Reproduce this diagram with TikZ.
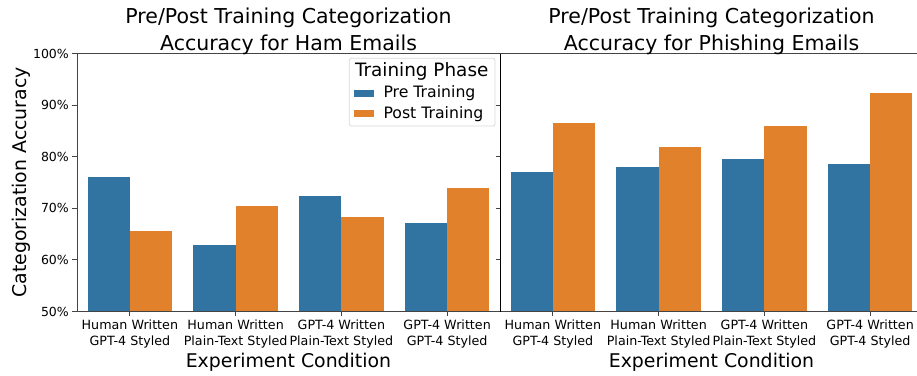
\documentclass[tikz,border=0pt]{standalone}
\usepackage{fontspec}
\setmainfont{DejaVu Sans}
\definecolor{preblue}{HTML}{3274A1}
\definecolor{postorange}{HTML}{E1812C}
\definecolor{spinecol}{HTML}{444444}
\tikzset{
  prebar/.style={fill=preblue, draw=none},
  postbar/.style={fill=postorange, draw=none},
  spine/.style={draw=spinecol, line width=1pt},
  tickmark/.style={draw=spinecol, line width=0.9pt},
  ticklab/.style={inner sep=0pt, font=\fontsize{12.5}{16.5}\selectfont},
  xticklab/.style={inner sep=0pt, align=center, anchor=base, font=\fontsize{12.7}{16.5}\selectfont},
  bigtitle/.style={inner sep=0pt, align=center, anchor=base, font=\fontsize{20.5}{26.7}\selectfont},
  axlabel/.style={inner sep=0pt, anchor=base, font=\fontsize{18.9}{22}\selectfont},
  legtext/.style={inner sep=0pt, anchor=base west, font=\fontsize{15.7}{18}\selectfont},
}
\begin{document}
\begin{tikzpicture}[x=1pt,y=-1pt]
\useasboundingbox (0,0) rectangle (917,375);
% value -> y : 311.5 - (v-50)*5.16
\def\yv#1{311.5-(#1-50)*5.16}
% bars left panel
\foreach \cx/\pre/\post in {129.875/76.05/65.6, 235.625/62.9/70.4, 341.375/72.4/68.3, 447.125/67.2/73.9}{
  \fill[prebar] (\cx-42.3,311.5) rectangle (\cx,{\yv{\pre}});
  \fill[postbar] (\cx,311.5) rectangle (\cx+42.3,{\yv{\post}});
}
% bars right panel
\foreach \cx/\pre/\post in {552.875/77.1/86.5, 658.625/78.0/81.9, 764.375/79.5/85.9, 870.125/78.5/92.3}{
  \fill[prebar] (\cx-42.3,311.5) rectangle (\cx,{\yv{\pre}});
  \fill[postbar] (\cx,311.5) rectangle (\cx+42.3,{\yv{\post}});
}
% spines
\draw[spine] (77,53.5) -- (77,311.5);
\draw[spine] (77,53.5) -- (917,53.5);
\draw[spine] (77,311.5) -- (917,311.5);
\draw[draw=black, line width=1pt] (500,53.5) -- (500,311.5);
% y ticks and labels
\foreach \v/\lab in {50/50\%, 60/60\%, 70/70\%, 80/80\%, 90/90\%, 100/100\%}{
  \draw[tickmark] (72,{\yv{\v}}) -- (77,{\yv{\v}});
  \draw[tickmark] (496,{\yv{\v}}) -- (500,{\yv{\v}});
  \node[ticklab, anchor=east] (yl\v) at (69,{\yv{\v}}) {\lab};
}
% x ticks
\foreach \cx in {129.875, 235.625, 341.375, 447.125, 552.875, 658.625, 764.375, 870.125}{
  \draw[tickmark] (\cx,311.5) -- (\cx,316);
}
% x tick labels (anchor at baseline of the last line)
\node[xticklab] (la) at (129.875,345.7) {Human Written\\GPT-4 Styled};
\node[xticklab] (lb) at (235.625,345.7) {Human Written\\Plain-Text Styled};
\node[xticklab] (lc) at (341.375,345.7) {GPT-4 Written\\Plain-Text Styled};
\node[xticklab] (ld) at (447.125,345.7) {GPT-4 Written\\GPT-4 Styled};
\node[xticklab] (ra) at (552.875,345.7) {Human Written\\GPT-4 Styled};
\node[xticklab] (rb) at (658.625,345.7) {Human Written\\Plain-Text Styled};
\node[xticklab] (rc) at (764.375,345.7) {GPT-4 Written\\Plain-Text Styled};
\node[xticklab] (rd) at (870.125,345.7) {GPT-4 Written\\GPT-4 Styled};
% axis labels
\node[axlabel] (xl1) at (288.5,367) {Experiment Condition};
\node[axlabel] (xl2) at (711.5,367) {Experiment Condition};
\node[axlabel, rotate=90] (ylab) at (26,182.5) {Categorization Accuracy};
% titles (anchor at baseline of the last line)
\node[bigtitle] (t1) at (288.5,50) {Pre/Post Training Categorization\\Accuracy for Ham Emails};
\node[bigtitle] (t2) at (711.5,50) {Pre/Post Training Categorization\\Accuracy for Phishing Emails};
% legend
\draw[draw=black!15, fill=white, fill opacity=0.8, rounded corners=2pt, line width=0.8pt] (349.3,58.3) rectangle (495,126);
\node[inner sep=0pt, anchor=base, font=\fontsize{18.4}{22}\selectfont] (legt) at (421.7,76) {Training Phase};
\fill[prebar] (353.5,89.5) rectangle (374,96.5);
\node[legtext] (leg1) at (383.3,97.5) {Pre Training};
\fill[postbar] (353.5,110.2) rectangle (374,117.2);
\node[legtext] (leg2) at (383.3,118.2) {Post Training};
\end{tikzpicture}
\end{document}
